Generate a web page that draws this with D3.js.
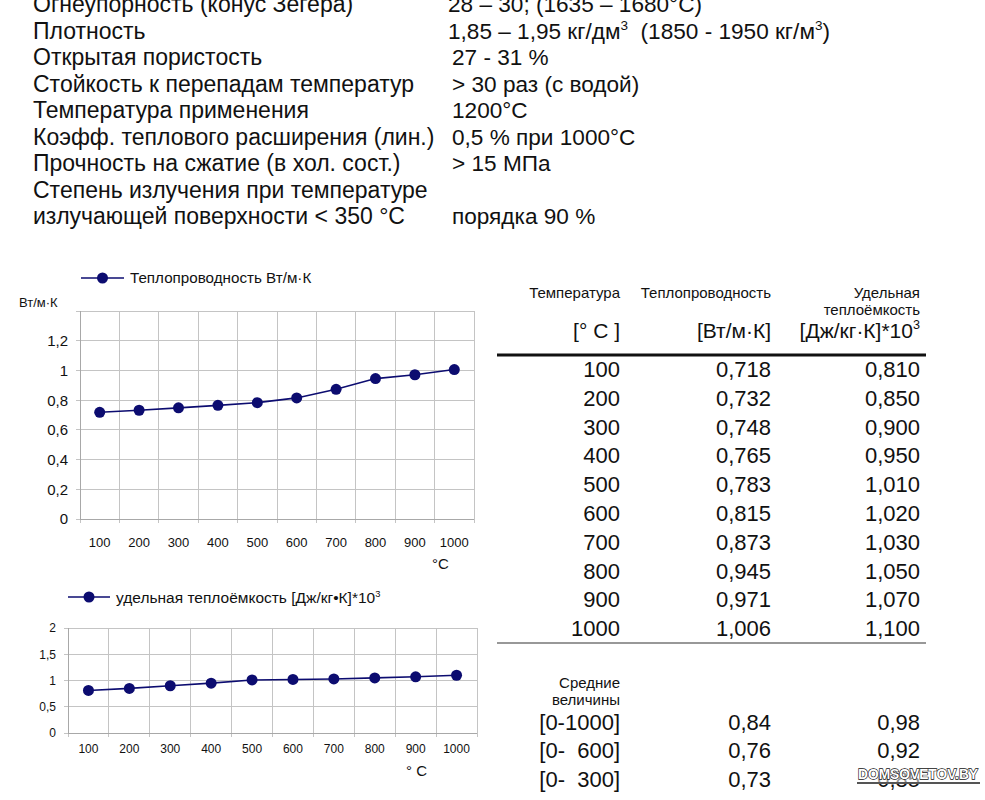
<!DOCTYPE html>
<html><head><meta charset="utf-8">
<script src="https://cdn.jsdelivr.net/npm/d3@7"></script>
<style>
html,body{margin:0;padding:0;background:#fff;}
svg{display:block;font-family:"Liberation Sans",Arial,sans-serif;}
</style></head>
<body>
<svg id="c" width="985" height="800"></svg>
<script>
// ---- data ----
const propLabels = ["Огнеупорность (конус Зегера)","Плотность","Открытая пористость","Стойкость к перепадам температур","Температура применения","Коэфф. теплового расширения (лин.)","Прочность на сжатие (в хол. сост.)","Степень излучения при температуре","излучающей поверхности < 350 °C"];
const propValues = ["28 – 30; (1635 – 1680°C)","1,85 – 1,95 кг/дм^3  (1850 - 1950 кг/м^3)","27 - 31 %","> 30 раз (с водой)","1200°C","0,5 % при 1000°C","> 15 МПа","","порядка 90 %"];
const temps = [100,200,300,400,500,600,700,800,900,1000];
const conductivity = [0.718,0.732,0.748,0.765,0.783,0.815,0.873,0.945,0.971,1.006];
const heatCapacity = [0.810,0.850,0.900,0.950,1.010,1.020,1.030,1.050,1.070,1.100];
const conductivityLabels = ["0,718","0,732","0,748","0,765","0,783","0,815","0,873","0,945","0,971","1,006"];
const heatCapacityLabels = ["0,810","0,850","0,900","0,950","1,010","1,020","1,030","1,050","1,070","1,100"];
const avgRanges = ["[0-1000]","[0-  600]","[0-  300]"];
const avgConductivity = ["0,84","0,76","0,73"];
const avgHeatCapacity = ["0,98","0,92","0,85"];
const yTicks1 = [0,0.2,0.4,0.6,0.8,1,1.2,1.4];
const yTicks2 = [0,0.5,1,1.5,2];

const svg = d3.select("#c");
const NAVY = "#0c0c70", GRID = "#c4c4c4";
const fmt = v => String(+v.toFixed(2)).replace(".", ",");
const nb = s => s.replace(/ /g, "\u00A0");

function supText(sel, str, up){
  up = up || 8;
  const parts = str.split(/\^(\d)/);
  parts.forEach((p,i)=>{
    if(i%2===1) sel.append("tspan").attr("dy",-up).attr("font-size","0.6em").text(p);
    else if(p.length){ const t = sel.append("tspan").text(nb(p)); if(i>0) t.attr("dy",up); }
  });
}

// ---- top property list ----
const propRow = d3.scaleLinear().domain([0,1]).range([12,38.5]);
const propG = svg.append("g").attr("fill","#111");
propLabels.forEach((l,i)=>{
  propG.append("text").attr("x",33).attr("y",propRow(i)).attr("font-size",23).text(l);
  const t = propG.append("text").attr("x", i<2?448:452).attr("y",propRow(i)).attr("font-size",22.6);
  supText(t, propValues[i], 9);
});

// ---- line chart helper ----
function lineChart(o){
  const g = svg.append("g");
  const x = d3.scaleBand().domain(temps).range([o.x0,o.x1]).padding(0);
  const y = d3.scaleLinear().domain([0,o.ymax]).range([o.y0,o.y1]);
  g.selectAll(".hg").data(o.yTicks).join("line")
    .attr("x1",o.x0-4).attr("x2",o.x1).attr("y1",d=>y(d)).attr("y2",d=>y(d))
    .attr("stroke",GRID).attr("stroke-width",1).attr("shape-rendering","crispEdges");
  const edges = temps.map(t=>x(t)).concat([o.x1]);
  g.selectAll(".vg").data(edges).join("line")
    .attr("x1",d=>d).attr("x2",d=>d).attr("y1",o.y1).attr("y2",o.y0+4)
    .attr("stroke",GRID).attr("stroke-width",1).attr("shape-rendering","crispEdges");
  g.append("line").attr("x1",o.x0).attr("x2",o.x0).attr("y1",o.y1).attr("y2",o.y0).attr("stroke","#a8a8a8").attr("shape-rendering","crispEdges");
  g.append("line").attr("x1",o.x0).attr("x2",o.x1).attr("y1",o.y0).attr("y2",o.y0).attr("stroke","#a8a8a8").attr("shape-rendering","crispEdges");
  g.selectAll(".yl").data(o.yTicks.filter(d=>d<=o.ylabMax)).join("text")
    .attr("x",o.x0-12).attr("y",d=>y(d)).attr("dy","0.36em").attr("text-anchor","end")
    .attr("font-size",o.yfs).attr("fill","#111").text(fmt);
  g.selectAll(".xl").data(temps).join("text")
    .attr("x",d=>x(d)+x.bandwidth()/2).attr("y",o.xly).attr("dy","0.36em").attr("text-anchor","middle")
    .attr("font-size",o.xfs).attr("fill","#111").text(d=>d);
  const line = d3.line().x((d,i)=>x(temps[i])+x.bandwidth()/2).y(d=>y(d));
  g.append("path").datum(o.values).attr("d",line).attr("fill","none").attr("stroke",NAVY).attr("stroke-width",1.6);
  g.selectAll(".pt").data(o.values).join("circle")
    .attr("cx",(d,i)=>x(temps[i])+x.bandwidth()/2).attr("cy",d=>y(d)).attr("r",5.5).attr("fill",NAVY);
  g.append("line").attr("x1",o.lx0).attr("x2",o.lx1).attr("y1",o.ly).attr("y2",o.ly).attr("stroke",NAVY).attr("stroke-width",1.6);
  g.append("circle").attr("cx",(o.lx0+o.lx1)/2).attr("cy",o.ly).attr("r",5.5).attr("fill",NAVY);
  const lt = g.append("text").attr("x",o.lx1+6).attr("y",o.ly).attr("dy","0.36em").attr("font-size",o.lfs).attr("fill","#111");
  supText(lt, o.legend, 6);
  g.append("text").attr("x",o.ux).attr("y",o.uy).attr("dy","0.36em").attr("font-size",15).attr("fill","#111").text(o.unit);
  return g;
}

lineChart({x0:80,x1:474,y0:519,y1:311,ymax:1.4,yTicks:yTicks1,ylabMax:1.2,yfs:15,xfs:13,xly:542,lfs:15.2,
  values:conductivity,lx0:81,lx1:124,ly:278,legend:"Теплопроводность Вт/м·К",ux:432,uy:564,unit:"°C"});
svg.append("text").attr("x",19).attr("y",302).attr("dy","0.36em").attr("font-size",13).attr("fill","#111").text("Вт/м·К");

lineChart({x0:68,x1:477,y0:733,y1:628,ymax:2,yTicks:yTicks2,ylabMax:2,yfs:12,xfs:12,xly:749,lfs:15.5,
  values:heatCapacity,lx0:68,lx1:110,ly:597,legend:"удельная теплоёмкость [Дж/кг•К]*10^3",ux:406,uy:771,unit:"° C"});

// ---- table ----
const colX = [620,771,920];
const tb = svg.append("g").attr("fill","#111");
const hdr = [[0,293,"Температура",15],[1,293,"Теплопроводность",15],[2,293,"Удельная",15],[2,310,"теплоёмкость",15],[0,330,"[° C ]",21],[1,330,"[Вт/м·К]",21],[2,330,"[Дж/кг·К]*10^3",21]];
hdr.forEach(([c,yy,s,fs])=>{
  const t = tb.append("text").attr("x",colX[c]).attr("y",yy).attr("dy","0.36em").attr("text-anchor","end").attr("font-size",fs);
  supText(t,s,9);
});
tb.append("line").attr("x1",497).attr("x2",926).attr("y1",355).attr("y2",355).attr("stroke","#111").attr("stroke-width",3);
const rowY = d3.scaleLinear().domain([0,1]).range([369,397.8]);
temps.forEach((t,i)=>{
  [String(t),conductivityLabels[i],heatCapacityLabels[i]].forEach((s,c)=>{
    tb.append("text").attr("x",colX[c]).attr("y",rowY(i)).attr("dy","0.36em").attr("text-anchor","end").attr("font-size",22).text(s);
  });
});
tb.append("line").attr("x1",497).attr("x2",926).attr("y1",643).attr("y2",643).attr("stroke","#333").attr("stroke-width",1.2);
tb.append("text").attr("x",colX[0]).attr("y",683).attr("dy","0.36em").attr("text-anchor","end").attr("font-size",15).text("Средние");
tb.append("text").attr("x",colX[0]).attr("y",700).attr("dy","0.36em").attr("text-anchor","end").attr("font-size",15).text("величины");
const avgY = d3.scaleLinear().domain([0,1]).range([722,750.5]);
avgRanges.forEach((r,i)=>{
  [r,avgConductivity[i],avgHeatCapacity[i]].forEach((s,c)=>{
    tb.append("text").attr("x",colX[c]).attr("y",avgY(i)).attr("dy","0.36em").attr("text-anchor","end").attr("font-size",22).text(nb(s));
  });
});

// ---- watermark ----
svg.append("rect").attr("x",856).attr("y",765).attr("width",125).attr("height",19).attr("fill","#fff").attr("opacity",0.55);
svg.append("line").attr("x1",857).attr("x2",980).attr("y1",783).attr("y2",783).attr("stroke","#555").attr("stroke-width",2);
svg.append("text").attr("x",918).attr("y",774).attr("dy","0.36em").attr("text-anchor","middle")
  .attr("font-size",14).attr("font-weight","bold").attr("fill","#fff").attr("stroke","#111").attr("stroke-width",1.3)
  .attr("paint-order","stroke").attr("textLength",120).attr("lengthAdjust","spacingAndGlyphs").text("DOMSOVETOV.BY");
</script>
</body></html>
